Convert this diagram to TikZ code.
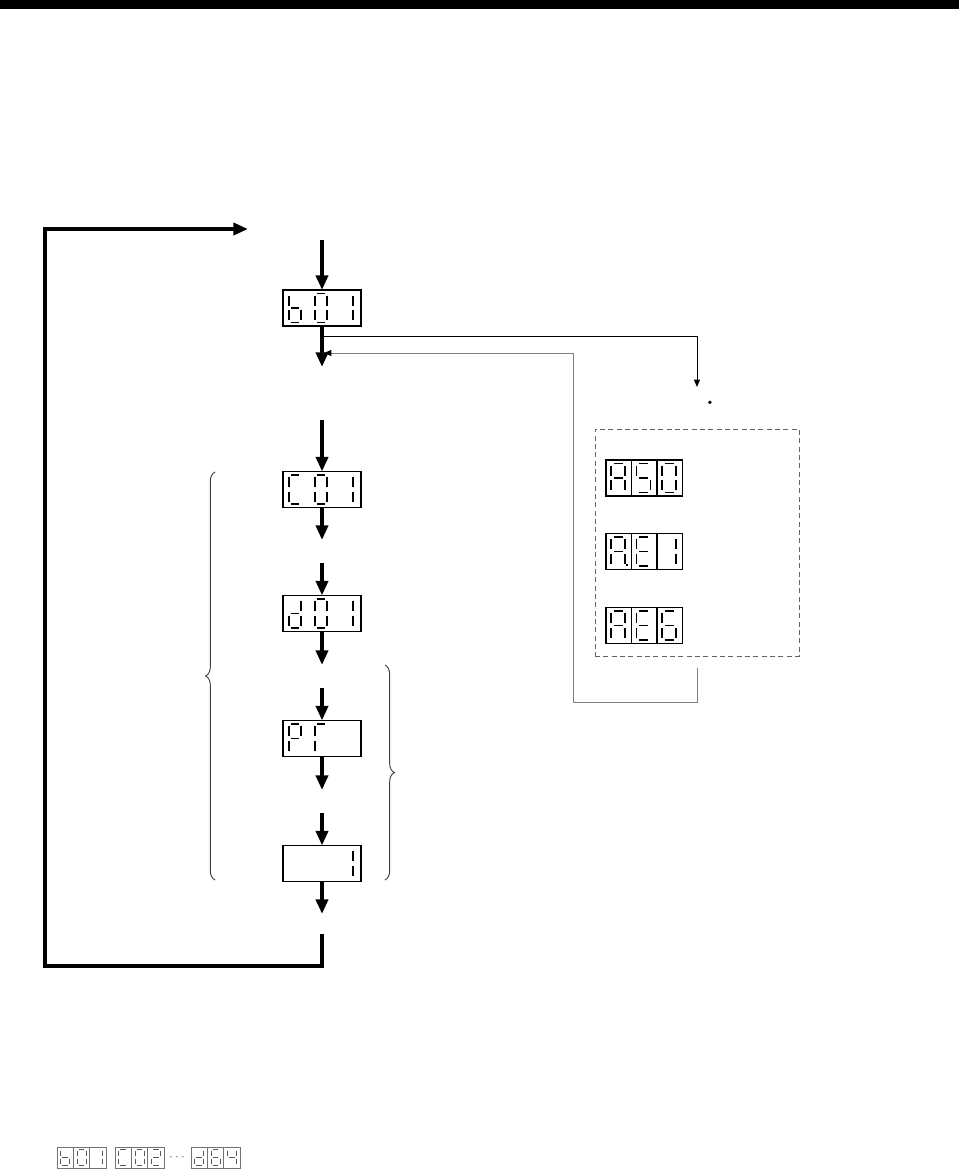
\documentclass[tikz,border=0pt]{standalone}
\usepackage{tikz}
\usetikzlibrary{arrows.meta, decorations.pathreplacing, positioning}

%% segments of one seven-segment digit (width 1, height 2, y downwards)
\newcommand{\dsega}{(0.18,0)--(0.82,0)}
\newcommand{\dsegb}{(1,0.14)--(1,0.86)}
\newcommand{\dsegc}{(1,1.14)--(1,1.86)}
\newcommand{\dsegd}{(0.18,2)--(0.82,2)}
\newcommand{\dsege}{(0,1.14)--(0,1.86)}
\newcommand{\dsegf}{(0,0.14)--(0,0.86)}
\newcommand{\dsegg}{(0.18,1)--(0.82,1)}
\newcommand{\dsegp}{(1.16,1.88)--(1.16,2)}

%% #1 anchor, #2 offset, #3 width, #4 height, #5 segments
\newcommand{\sevseg}[5]{%
  \begin{scope}[shift={(#1)}, shift={(#2)}, xscale=#3, yscale=#4/2]
    \foreach \s in {#5} {\draw[segline] \csname dseg\s\endcsname;}
  \end{scope}}
\newcommand{\maindigit}[3]{\sevseg{#1.north west}{6+26*#2,3.5}{12}{29}{#3}}
\newcommand{\alarmdigit}[2]{\sevseg{#1.north west}{5,3.5}{14}{29}{#2}}
\newcommand{\minidigit}[2]{\sevseg{#1.north west}{3.7,2.5}{9}{16}{#2}}

\tikzset{
  dispbox/.style={draw, line width=0.9pt, minimum width=58.5pt, minimum height=27pt, inner sep=0pt, outer sep=0pt},
  acell/.style={draw, line width=0.9pt, minimum width=19.1pt, minimum height=27pt, inner sep=0pt, outer sep=0pt},
  mcell/.style={draw, black!55, line width=0.5pt, minimum width=12.2pt, minimum height=15.75pt, inner sep=0pt, outer sep=0pt},
  segline/.style={line width=1.4pt},
  flow/.style={line width=3pt, -{Triangle[width=9pt,length=11pt]}},
  thinarrow/.style={line width=0.7pt, -{Triangle[width=4.5pt,length=5.5pt]}},
  retline/.style={black!50, line width=0.7pt, -{Triangle[width=4.5pt,length=5.5pt,color=black]}},
  bracket/.style={decorate, decoration={brace, amplitude=7pt}, black!75, line width=0.7pt}
}

\begin{document}
\begin{tikzpicture}[x=0.75pt, y=-0.75pt]
  \useasboundingbox (0,0) rectangle (959,1170);
  \fill (0,0) rectangle (959,9);

  %% main sequence of displays
  \node[dispbox] (b01) at (322,308) {};
  \node[dispbox] (c01) at (322,489.5) {};
  \node[dispbox] (d01) at (322,613.5) {};
  \node[dispbox] (p1) at (322,738.5) {};
  \node[dispbox] (last) at (322,863.5) {};

  \maindigit{b01}{0}{f,e,d,c,g}
  \maindigit{b01}{1}{a,b,c,d,e,f}
  \maindigit{b01}{2}{b,c}
  \maindigit{c01}{0}{a,f,e,d}
  \maindigit{c01}{1}{a,b,c,d,e,f}
  \maindigit{c01}{2}{b,c}
  \maindigit{d01}{0}{b,c,d,e,g}
  \maindigit{d01}{1}{a,b,c,d,e,f}
  \maindigit{d01}{2}{b,c}
  \maindigit{p1}{0}{a,b,f,g,e}
  \maindigit{p1}{1}{a,f,e}
  \maindigit{last}{2}{b,c}

  %% arrow ends
  \coordinate (in0) at (322,240);
  \coordinate (out0) at (322,367);
  \coordinate (in1) at (322,420);
  \coordinate (out1) at (322,540);
  \coordinate (in2) at (322,563);
  \coordinate (out2) at (322,665);
  \coordinate (in3) at (322,688);
  \coordinate (out3) at (322,790);
  \coordinate (in4) at (322,813);
  \coordinate (out4) at (322,914);
  \coordinate (loopin) at (322,934);
  \coordinate (loopcorner) at (45,966);
  \coordinate (loopend) at (248,229);

  \draw[flow] (in0) -- (b01.north);
  \draw[flow] (b01.south) -- (out0);
  \draw[flow] (in1) -- (c01.north);
  \draw[flow] (c01.south) -- (out1);
  \draw[flow] (in2) -- (d01.north);
  \draw[flow] (d01.south) -- (out2);
  \draw[flow] (in3) -- (p1.north);
  \draw[flow] (p1.south) -- (out3);
  \draw[flow] (in4) -- (last.north);
  \draw[flow] (last.south) -- (out4);
  \draw[flow] (loopin) |- (loopcorner) |- (loopend);

  %% braces
  \draw[bracket] (215,880) -- (215,472);
  \draw[bracket] (385,665) -- (385,880);

  %% alarm displays
  \node[draw, black!60, dashed, dash pattern=on 3.75pt off 2.5pt, line width=0.6pt,
        minimum width=153pt, minimum height=170.25pt, inner sep=0pt] (alarms) at (697,542.5) {};
  \foreach \i in {0,1,2} {
    \node[acell] (aa\i) at (618.75+25.5*\i,478) {};
    \node[acell] (ab\i) at (618.75+25.5*\i,551.5) {};
    \node[acell] (ac\i) at (618.75+25.5*\i,625.5) {};
  }
  \alarmdigit{aa0}{a,b,c,e,f,g}
  \alarmdigit{aa1}{a,f,g,c,d}
  \alarmdigit{aa2}{a,b,c,d,e,f}
  \alarmdigit{ab0}{a,b,c,e,f,g,p}
  \alarmdigit{ab1}{a,f,g,e,d}
  \alarmdigit{ab2}{b,c}
  \alarmdigit{ac0}{a,b,c,e,f,g}
  \alarmdigit{ac1}{a,f,g,e,d}
  \alarmdigit{ac2}{a,f,g,e,d,c}

  \node[anchor=base, font=\bfseries\LARGE, inner sep=0pt] (mark) at (710,404) {.};

  %% branch to alarms and back
  \coordinate (brstart) at (322,336);
  \coordinate (alarmin) at (697,387);
  \coordinate (retstart) at (697,668);
  \coordinate (retlow) at (573,702);
  \coordinate (retend) at (324,353);
  \draw[thinarrow] (brstart) -| (alarmin);
  \draw[retline] (retstart) |- (retlow) |- (retend);

  %% small displays at the bottom
  \foreach \i in {0,1,2} {
    \node[mcell] (ma\i) at (65.2+16.3*\i,1157.5) {};
    \node[mcell] (mb\i) at (123.2+16.3*\i,1157.5) {};
    \node[mcell] (mc\i) at (199.2+16.3*\i,1157.5) {};
  }
  \node[black!60, inner sep=0pt] (mdots) at (177,1158) {$\cdots$};
  \begin{scope}[segline/.style={line width=0.8pt, black!65}]
    \minidigit{ma0}{f,e,d,c,g}
    \minidigit{ma1}{a,b,c,d,e,f}
    \minidigit{ma2}{b,c}
    \minidigit{mb0}{a,f,e,d}
    \minidigit{mb1}{a,b,c,d,e,f}
    \minidigit{mb2}{a,b,g,e,d}
    \minidigit{mc0}{b,c,d,e,g}
    \minidigit{mc1}{a,f,g,e,d,c}
    \minidigit{mc2}{f,g,b,c}
  \end{scope}
\end{tikzpicture}
\end{document}
